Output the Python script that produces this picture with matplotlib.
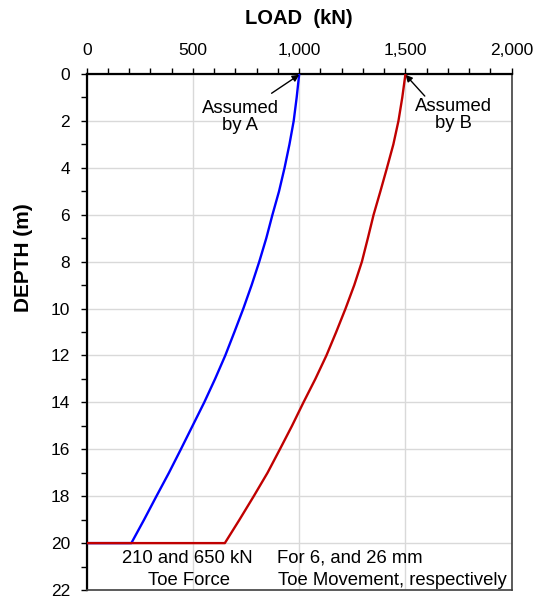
import matplotlib.pyplot as plt
from matplotlib.ticker import MultipleLocator, FuncFormatter

plt.rcParams['font.family'] = ['Liberation Sans', 'DejaVu Sans']

# depth (m) and load (kN)
depth = [0, 1, 2, 3, 4, 5, 6, 7, 8, 9, 10, 11, 12, 13, 14, 15, 16, 17, 18, 19, 20]
load_a = [1000, 988, 974, 954, 931, 905, 874, 845, 812, 776, 737, 695, 652, 604, 553, 498, 443, 387, 328, 270, 210]
load_b = [1500, 1485, 1467, 1443, 1413, 1382, 1350, 1323, 1295, 1259, 1218, 1174, 1128, 1076, 1020, 966, 909, 851, 786, 719, 650]
toe_depth = 20

fig = plt.figure(figsize=(5.37, 5.99), dpi=100)
ax = fig.add_axes([0.1615, 0.015, 0.7914, 0.8614])

ax.plot(load_a + [0], depth + [toe_depth], color='#0000ff', lw=1.7, zorder=3)
ax.plot(load_b + [0], depth + [toe_depth], color='#c00000', lw=1.7, zorder=4)

ax.set_xlim(0, 2000)
ax.set_ylim(22, 0)
ax.xaxis.tick_top()
ax.xaxis.set_label_position('top')
ax.xaxis.set_major_locator(MultipleLocator(500))
ax.xaxis.set_minor_locator(MultipleLocator(100))
ax.yaxis.set_major_locator(MultipleLocator(2))
ax.yaxis.set_minor_locator(MultipleLocator(1))
ax.xaxis.set_major_formatter(FuncFormatter(lambda v, p: f'{int(v):,}'))
ax.tick_params(axis='both', which='major', labelsize=12.5, length=4, width=1, direction='out')
ax.tick_params(axis='x', which='major', pad=7.5)
ax.tick_params(axis='y', which='major', pad=8)
ax.tick_params(axis='both', which='minor', length=4, width=1, direction='out')
ax.tick_params(axis='x', which='both', top=True, bottom=False)
ax.grid(which='major', color='#d9d9d9', lw=1, zorder=0)

for s in ['top', 'left']:
    ax.spines[s].set_linewidth(1.6)
for s in ['bottom', 'right']:
    ax.spines[s].set_linewidth(1.2)
    ax.spines[s].set_color('#404040')

ax.set_xlabel('LOAD  (kN)', fontsize=14.5, fontweight='bold', labelpad=14)
ax.set_ylabel('DEPTH (m)', fontsize=15, fontweight='bold')
ax.yaxis.set_label_coords(-0.1256, 0.645)

ax.annotate('', xy=(load_a[0], 0.03), xytext=(870, 0.82),
            arrowprops=dict(arrowstyle='-|>', color='black', lw=1, shrinkA=0, shrinkB=0))
ax.annotate('', xy=(load_b[0], 0.03), xytext=(1591, 0.94),
            arrowprops=dict(arrowstyle='-|>', color='black', lw=1, shrinkA=0, shrinkB=0))
ax.text(722, 1.83, 'Assumed\nby A', ha='center', va='center', fontsize=13.3, linespacing=1.0)
ax.text(1728, 1.73, 'Assumed\nby B', ha='center', va='center', fontsize=13.3, linespacing=1.0)

ax.text(475, 20.64, '210 and 650 kN', ha='center', va='center', fontsize=13.3)
ax.text(480, 21.58, 'Toe Force', ha='center', va='center', fontsize=13.3)
ax.text(895, 20.64, 'For 6, and 26 mm', ha='left', va='center', fontsize=13.3)
ax.text(899, 21.58, 'Toe Movement, respectively', ha='left', va='center', fontsize=13.3)

fig.savefig('out.png', dpi=100)
